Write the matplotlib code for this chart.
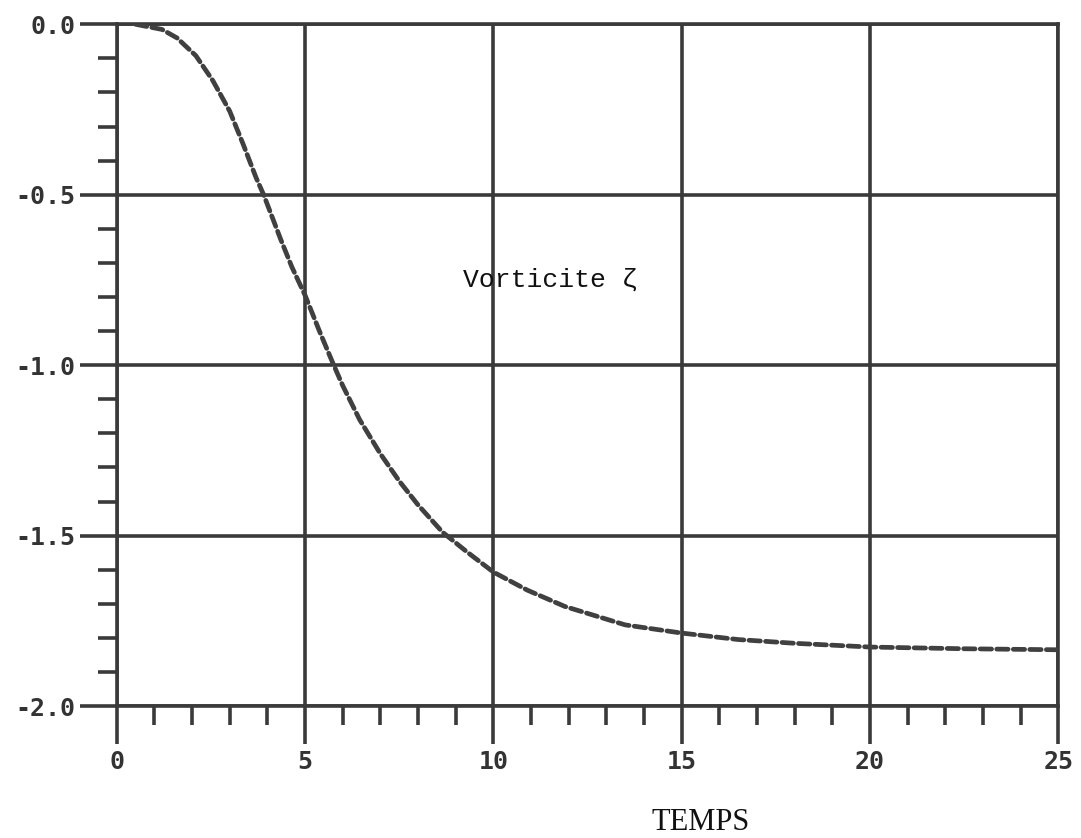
import matplotlib
matplotlib.use("Agg")
import matplotlib.pyplot as plt
from matplotlib.ticker import MultipleLocator

plt.rcParams['axes.unicode_minus'] = False

# === données ===
temps = [0.5, 1.2, 1.6, 2.1, 2.55, 3.0, 3.35, 3.7, 3.9, 4.35, 4.65, 5.0, 5.4,
         5.75, 6.0, 6.45, 7.0, 7.5, 8.0, 8.65, 9.3, 10.0, 10.9, 11.9, 13.5,
         15.0, 16.5, 18.0, 20.0, 22.5, 25.0]
vorticite = [0.0, -0.015, -0.04, -0.092, -0.165, -0.255, -0.35, -0.45, -0.5,
             -0.63, -0.712, -0.795, -0.905, -0.997, -1.06, -1.16, -1.26, -1.34,
             -1.41, -1.49, -1.548, -1.607, -1.66, -1.708, -1.762, -1.786,
             -1.805, -1.816, -1.827, -1.832, -1.835]

x_ticks = [0, 5, 10, 15, 20, 25]
x_labels = ['0', '5', '10', '15', '20', '25']
y_ticks = [0.0, -0.5, -1.0, -1.5, -2.0]
y_labels = ['0.0', '-0.5', '-1.0', '-1.5', '-2.0']

line_col = '#3a3a3a'

fig = plt.figure(figsize=(10.81, 8.38), dpi=100)
ax = fig.add_axes([0.108, 0.1575, 0.871, 0.8135])

ax.plot(temps, vorticite, color='#404040', linewidth=3.4,
        linestyle=(0, (2.4, 1.1)), dash_capstyle='round', zorder=3)

ax.set_xlim(0, 25)
ax.set_ylim(-2.0, 0.0)

ax.set_xticks(x_ticks)
ax.set_xticklabels(x_labels)
ax.set_yticks(y_ticks)
ax.set_yticklabels(y_labels)
ax.xaxis.set_minor_locator(MultipleLocator(1))
ax.yaxis.set_minor_locator(MultipleLocator(0.1))

ax.grid(True, which='major', color=line_col, linewidth=2.6)
for s in ax.spines.values():
    s.set_color(line_col)
    s.set_linewidth(2.6)

ax.tick_params(which='major', direction='out', length=27, width=2.6, color=line_col)
ax.tick_params(axis='x', which='major', pad=5)
ax.tick_params(axis='y', which='major', pad=3)
ax.tick_params(which='minor', direction='out', length=14, width=2.6, color=line_col)
for lab in ax.get_xticklabels() + ax.get_yticklabels():
    lab.set_family('DejaVu Sans Mono')
    lab.set_fontweight('bold')
    lab.set_fontsize(18)
    lab.set_color('#333333')

ax.text(11.5, -0.75, 'Vorticite ζ', family=['Liberation Mono', 'DejaVu Sans Mono'],
        fontsize=19, ha='center', va='center', color='#111111')

fig.text(0.648, 0.019, 'TEMPS', family='Liberation Serif', fontsize=22,
         ha='center', va='center', color='#111111')

fig.savefig('out.png', dpi=100)
